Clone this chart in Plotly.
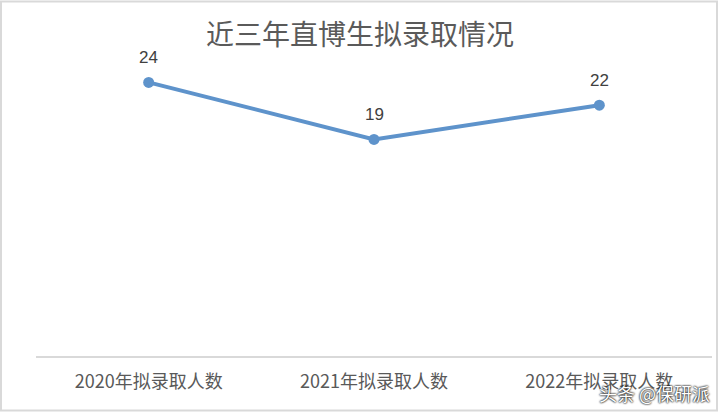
import plotly.graph_objects as go

categories = ["2020年拟录取人数", "2021年拟录取人数", "2022年拟录取人数"]
values = [24, 19, 22]
title_text = "近三年直博生拟录取情况"
watermark = "头条 @保研派"

W, H = 720, 412
ml, mr, mt, mb = 36, 8, 40, 56
pw, ph = W - ml - mr, H - mt - mb

fig = go.Figure()
fig.add_trace(go.Scatter(
    x=categories, y=values, mode="lines+markers",
    line=dict(color="#5e93cb", width=4),
    marker=dict(size=11, color="#5e93cb"),
    cliponaxis=False, hoverinfo="skip",
))

for c, v in zip(categories, values):
    fig.add_annotation(x=c, y=v, text=str(v), showarrow=False, yshift=25,
                       xanchor="center", yanchor="middle",
                       font=dict(size=17, color="#404040", family="Liberation Sans, Arial"))

fig.update_layout(
    width=W, height=H,
    margin=dict(l=ml, r=mr, t=mt, b=mb, autoexpand=False),
    paper_bgcolor="white", plot_bgcolor="white",
    showlegend=False,
    title=dict(text=title_text, x=0.5, xanchor="center", y=1 - 35 / H, yanchor="middle",
               font=dict(size=28, color="#5a5a5a", family="Noto Sans CJK SC")),
    xaxis=dict(showgrid=False, showline=True, linecolor="#d9d9d9", linewidth=2,
               range=[-0.5, 2.5], automargin=False, ticklabelstandoff=8,
               ticks="", tickfont=dict(size=18, color="#595959", family="Noto Sans CJK SC"),
               fixedrange=True),
    yaxis=dict(visible=False, range=[0, ph / 11.4], fixedrange=True, automargin=False),
)

# outer light frame
fig.add_shape(type="rect", xref="paper", yref="paper",
              x0=(-ml + 1) / pw, x1=(W - ml - 3) / pw,
              y0=(-mb + 1.5) / ph, y1=(H - mb - 1.5) / ph,
              line=dict(color="#d9d9d9", width=2), fillcolor="rgba(0,0,0,0)", layer="below")

fig.add_annotation(text=watermark, xref="paper", yref="paper",
                   x=(712 - ml) / pw, y=(356 - 393) / ph, xanchor="right", yanchor="middle",
                   showarrow=False,
                   font=dict(size=18, color="white", family="Noto Sans CJK SC",
                             shadow="0px 0px 2px #000000, 0px 0px 2px #000000"))

fig.write_html("out.html", config={"displayModeBar": False, "staticPlot": True},
               post_script="document.body.style.margin='0';document.body.style.overflow='hidden';")
